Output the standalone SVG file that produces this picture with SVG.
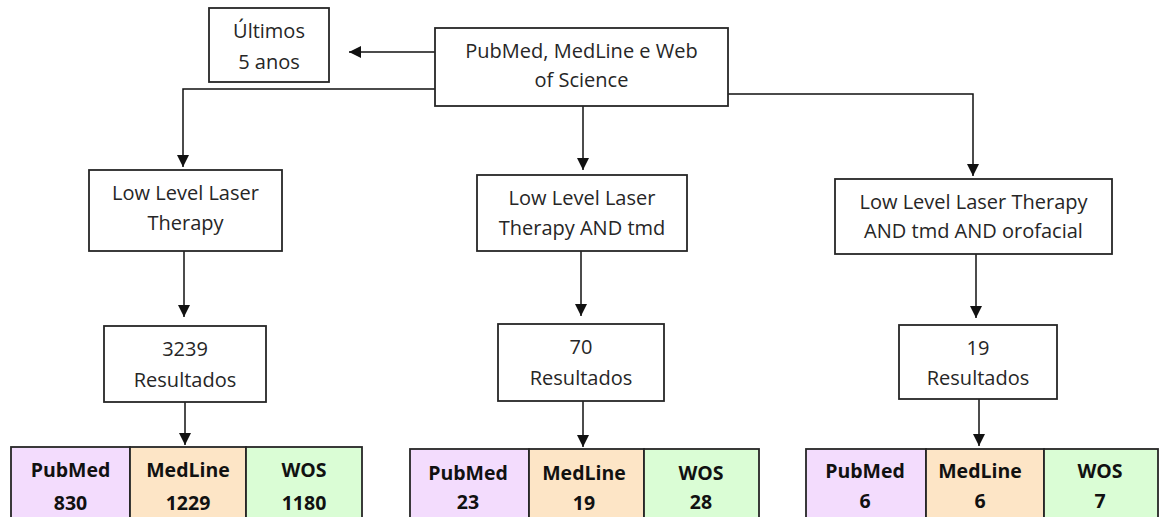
<svg xmlns="http://www.w3.org/2000/svg" width="1159" height="517" viewBox="0 0 1159 517">
<style>
.box{fill:#fff;stroke:#262626;stroke-width:1.8}
.t{font-family:"Open Sans","Liberation Sans",sans-serif;font-size:20px;fill:#262626;text-anchor:middle}
.b{font-family:"Open Sans","Liberation Sans",sans-serif;font-size:19.5px;font-weight:bold;fill:#111;text-anchor:middle}
.c{fill:none;stroke:#111;stroke-width:1.5}
.pm{fill:#f3dcfd;stroke:#262626;stroke-width:1.8}
.ml{fill:#fde5c6;stroke:#262626;stroke-width:1.8}
.ws{fill:#dafdd5;stroke:#262626;stroke-width:1.8}
</style>
<defs>
<marker id="ah" markerUnits="userSpaceOnUse" markerWidth="12" markerHeight="12" refX="12" refY="6" orient="auto">
<path d="M0,0 L12,6 L0,12 z" fill="#111"/>
</marker>
</defs>
<rect width="1159" height="517" fill="#fff"/>
<g id="connectors">
<path class="c" d="M435,52 H349" marker-end="url(#ah)"/>
<path class="c" d="M435,89 H183 V167" marker-end="url(#ah)"/>
<path class="c" d="M583,106 V170" marker-end="url(#ah)"/>
<path class="c" d="M728,94 H973 V176" marker-end="url(#ah)"/>
<path class="c" d="M184,251 V317" marker-end="url(#ah)"/>
<path class="c" d="M581,251 V316" marker-end="url(#ah)"/>
<path class="c" d="M976,254 V318" marker-end="url(#ah)"/>
<path class="c" d="M185,402 V445" marker-end="url(#ah)"/>
<path class="c" d="M583,401 V447" marker-end="url(#ah)"/>
<path class="c" d="M979,399 V446" marker-end="url(#ah)"/>
</g>
<g id="ultimos">
<rect class="box" x="209" y="8" width="120" height="74"/>
<text class="t" x="269" y="38">Últimos</text>
<text class="t" x="269" y="69">5 anos</text>
</g>
<g id="fontes">
<rect class="box" x="435" y="28" width="293" height="78"/>
<text class="t" x="581.5" y="58">PubMed, MedLine e Web</text>
<text class="t" x="581.5" y="87">of Science</text>
</g>
<g id="q1">
<rect class="box" x="89" y="170" width="193" height="81"/>
<text class="t" x="185.5" y="200">Low Level Laser</text>
<text class="t" x="185.5" y="230">Therapy</text>
</g>
<g id="q2">
<rect class="box" x="477" y="175" width="210" height="76"/>
<text class="t" x="582" y="205">Low Level Laser</text>
<text class="t" x="582" y="235">Therapy AND tmd</text>
</g>
<g id="q3">
<rect class="box" x="835" y="179" width="277" height="75"/>
<text class="t" x="973.5" y="209">Low Level Laser Therapy</text>
<text class="t" x="973.5" y="238">AND tmd AND orofacial</text>
</g>
<g id="r1">
<rect class="box" x="104" y="326" width="162" height="76"/>
<text class="t" x="185" y="356">3239</text>
<text class="t" x="185" y="387">Resultados</text>
</g>
<g id="r2">
<rect class="box" x="498" y="324" width="166" height="77"/>
<text class="t" x="581" y="354">70</text>
<text class="t" x="581" y="385">Resultados</text>
</g>
<g id="r3">
<rect class="box" x="899" y="325" width="158" height="74"/>
<text class="t" x="978" y="355">19</text>
<text class="t" x="978" y="385">Resultados</text>
</g>
<g id="tab1">
<rect class="pm" x="11" y="447" width="119" height="75"/>
<rect class="ml" x="130" y="447" width="116" height="75"/>
<rect class="ws" x="246" y="447" width="116" height="75"/>
<text class="b" x="70.5" y="477">PubMed</text>
<text class="b" x="70.5" y="510">830</text>
<text class="b" x="188" y="477">MedLine</text>
<text class="b" x="188" y="510">1229</text>
<text class="b" x="304" y="477">WOS</text>
<text class="b" x="304" y="510">1180</text>
</g>
<g id="tab2">
<rect class="pm" x="410" y="449" width="119" height="73"/>
<rect class="ml" x="529" y="449" width="115" height="73"/>
<rect class="ws" x="644" y="449" width="115" height="73"/>
<text class="b" x="468" y="480">PubMed</text>
<text class="b" x="468" y="509">23</text>
<text class="b" x="584" y="480">MedLine</text>
<text class="b" x="584" y="510">19</text>
<text class="b" x="701" y="480">WOS</text>
<text class="b" x="701" y="509">28</text>
</g>
<g id="tab3">
<rect class="pm" x="806" y="449" width="120" height="73"/>
<rect class="ml" x="926" y="449" width="118" height="73"/>
<rect class="ws" x="1044" y="449" width="114" height="73"/>
<text class="b" x="865" y="478">PubMed</text>
<text class="b" x="865" y="508">6</text>
<text class="b" x="980" y="478">MedLine</text>
<text class="b" x="980" y="508">6</text>
<text class="b" x="1100" y="478">WOS</text>
<text class="b" x="1100" y="508">7</text>
</g>
</svg>
